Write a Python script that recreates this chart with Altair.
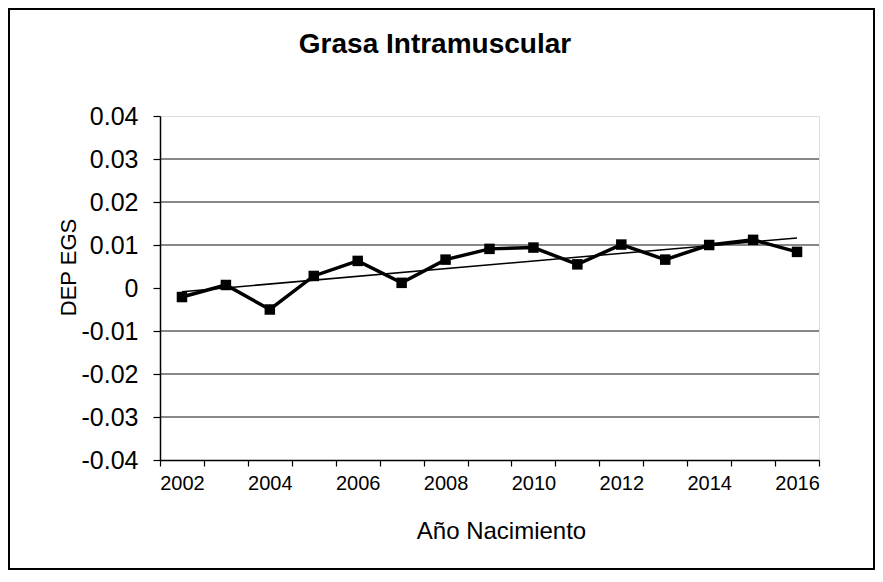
import altair as alt
import pandas as pd

# ---- data ----
years = list(range(2002, 2017))
dep = [-0.0021, 0.0007, -0.0050, 0.0028, 0.0063, 0.0012, 0.0066, 0.0091,
       0.0094, 0.0055, 0.0101, 0.0066, 0.0100, 0.0112, 0.0084]
y_ticks = [-0.04, -0.03, -0.02, -0.01, 0.0, 0.01, 0.02, 0.03, 0.04]
grid_values = [0.03, 0.02, 0.01, -0.01, -0.02, -0.03]
title_text = "Grasa Intramuscular"
x_title = "Año Nacimiento"
y_title = "DEP EGS"

df = pd.DataFrame({"year": years, "dep": dep})
grid_df = pd.DataFrame({"dep": grid_values})

W, H = 659, 344
FONT = "Liberation Sans"

x_enc = alt.X(
    "year:O",
    scale=alt.Scale(type="band", paddingInner=0, paddingOuter=0),
    axis=alt.Axis(
        title=x_title, labelAngle=0, tickBand="extent",
        labelExpr="datum.value % 2 == 0 ? datum.label : ''",
        labelFont=FONT, labelFontSize=20, labelColor="black", labelPadding=7,
        tickColor="black", tickSize=6, tickWidth=1.2,
        domainColor="black", domainWidth=1.5, grid=False,
        titleFont=FONT, titleFontSize=24, titleFontWeight="normal", titleColor="black",
        titleX=341, titleY=78, titleAlign="center", titleBaseline="alphabetic",
    ),
)
y_enc = alt.Y(
    "dep:Q",
    scale=alt.Scale(domain=[-0.04, 0.04], nice=False, zero=False),
    axis=alt.Axis(
        title=y_title, values=y_ticks, grid=False,
        labelExpr="datum.value == 0 ? '0' : (datum.value < 0 ? '-' + format(-datum.value, '.2f') : format(datum.value, '.2f'))",
        labelFont=FONT, labelFontSize=25, labelColor="black", labelPadding=15,
        tickColor="black", tickSize=7, tickWidth=1.2,
        domainColor="black", domainWidth=1.5,
        titleFont=FONT, titleFontSize=22, titleFontWeight="normal", titleColor="black",
        titleX=-92, titleY=151, titleAngle=270, titleAlign="center", titleBaseline="middle",
    ),
)

grid = alt.Chart(grid_df).mark_rule(color="#111", strokeWidth=1).encode(y=y_enc)

base = alt.Chart(df)
trend = base.transform_regression("year", "dep").mark_line(
    color="black", strokeWidth=1.5
).encode(x=x_enc, y=y_enc)
line = base.mark_line(color="black", strokeWidth=3.5).encode(x=x_enc, y=y_enc)
pts = base.mark_square(color="black", size=110, opacity=1).encode(x=x_enc, y=y_enc)

title = alt.Chart(alt.Data(values=[{"t": title_text}])).mark_text(
    font=FONT, fontSize=28, fontWeight="bold", align="center",
    baseline="alphabetic", color="black"
).encode(x=alt.value(275), y=alt.value(-63), text="t:N")

border = alt.Chart(alt.Data(values=[{}])).mark_rect(
    fillOpacity=0, stroke="black", strokeWidth=2
).encode(x=alt.value(-151), x2=alt.value(714), y=alt.value(-107), y2=alt.value(453))

chart = alt.layer(grid, trend, line, pts, title, border).properties(
    width=W, height=H,
    padding={"left": 152, "top": 108, "right": 56, "bottom": 110},
    autosize="none",
).configure_view(stroke="#888", strokeWidth=2).configure(background="white")

chart.save("out.html", embed_options={"renderer": "svg", "actions": False})
